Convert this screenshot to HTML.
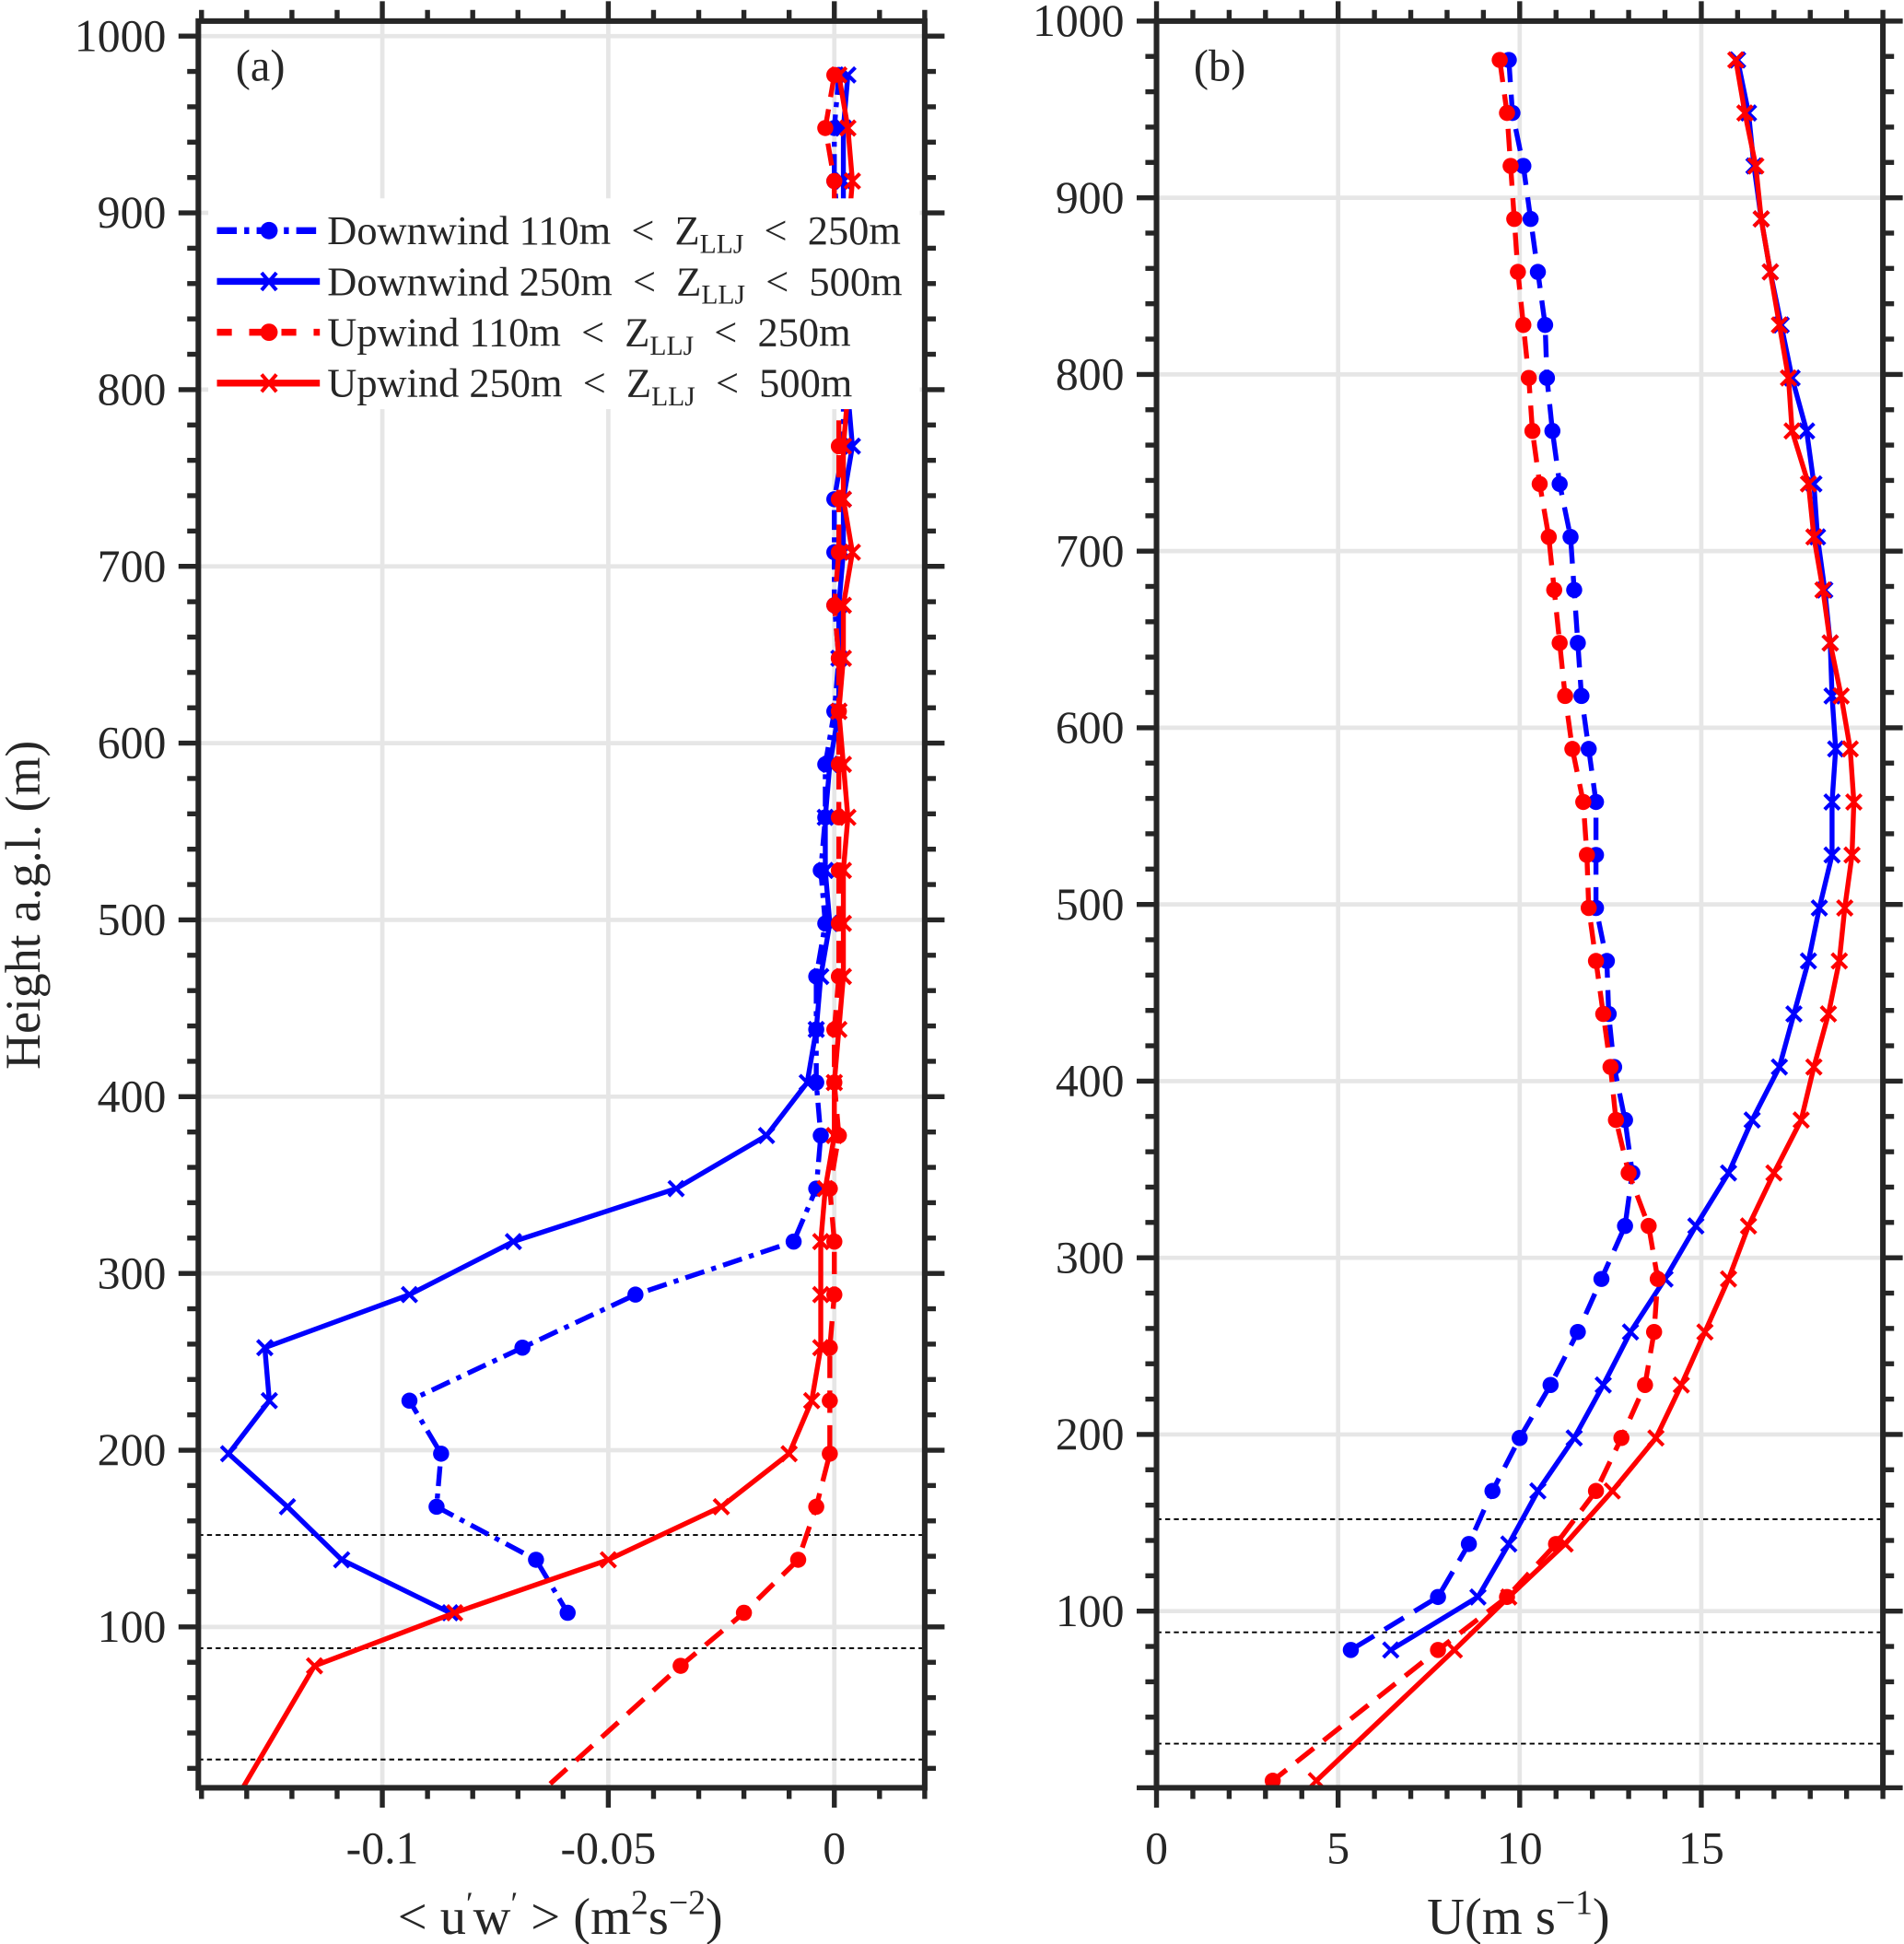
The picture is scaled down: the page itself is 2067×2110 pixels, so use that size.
<!DOCTYPE html>
<html><head><meta charset="utf-8"><style>
html,body{margin:0;padding:0;background:#fff;}
svg{display:block;}
text{font-family:"Liberation Serif",serif;fill:#262626;}
</style></head><body>
<svg id="fig" width="2067" height="2110" viewBox="0 0 1536 1568" xmlns="http://www.w3.org/2000/svg"></svg>
<script>
// ---- data ----
const heightsA = [978,948,918,888,858,828,798,768,738,708,678,648,618,588,558,528,498,468,438,408,378,348,318,288,258,228,198,168,138,108,78,4];
const dwLowFlux = [0.001,0.0,0.0,0.001,0.001,0.001,0.002,0.002,0.0,0.0,0.0,0.001,0.0,-0.002,-0.002,-0.003,-0.002,-0.004,-0.004,-0.004,-0.003,-0.004,-0.009,-0.044,-0.069,-0.094,-0.087,-0.088,-0.066,-0.059];
const dwHighFlux = [0.003,0.002,0.002,0.002,0.003,0.003,0.003,0.004,0.002,0.002,0.001,0.001,0.001,-0.001,-0.002,-0.002,-0.001,-0.003,-0.004,-0.006,-0.015,-0.035,-0.071,-0.094,-0.126,-0.125,-0.134,-0.121,-0.109,-0.085];
const uwLowFlux = [0.0,-0.002,0.0,0.0,0.0,0.001,0.001,0.001,0.001,0.001,0.0,0.001,0.001,0.001,0.001,0.001,0.001,0.001,0.0,0.0,0.001,-0.001,0.0,0.0,-0.001,-0.001,-0.001,-0.004,-0.008,-0.020,-0.034,-0.066];
const uwHighFlux = [0.001,0.003,0.004,0.003,0.003,0.003,0.003,0.002,0.002,0.004,0.002,0.002,0.001,0.002,0.003,0.002,0.002,0.002,0.001,0.0,0.0,-0.002,-0.003,-0.003,-0.003,-0.005,-0.010,-0.025,-0.050,-0.084,-0.115,-0.132];
const heightsB = heightsA;
const dwLowU = [9.7,9.8,10.1,10.3,10.5,10.7,10.75,10.9,11.1,11.4,11.5,11.6,11.7,11.9,12.1,12.1,12.1,12.4,12.45,12.6,12.9,13.1,12.9,12.25,11.6,10.85,10.0,9.25,8.6,7.75,5.35];
const dwHighU = [16.0,16.3,16.45,16.65,16.9,17.2,17.5,17.9,18.1,18.2,18.4,18.55,18.6,18.7,18.6,18.6,18.25,17.95,17.55,17.15,16.4,15.75,14.85,14.0,13.05,12.3,11.5,10.5,9.7,8.85,6.45];
const uwLowU = [9.45,9.65,9.75,9.85,9.95,10.1,10.25,10.35,10.55,10.8,10.95,11.1,11.25,11.45,11.75,11.85,11.9,12.1,12.3,12.5,12.65,13.0,13.55,13.8,13.7,13.45,12.8,12.1,11.0,9.65,7.75,3.2];
const uwHighU = [15.95,16.2,16.5,16.65,16.9,17.15,17.4,17.5,17.95,18.1,18.35,18.55,18.85,19.1,19.2,19.15,18.95,18.8,18.5,18.1,17.75,17.0,16.3,15.75,15.1,14.45,13.75,12.55,11.25,9.7,8.2,4.4];
const yTicks = [100,200,300,400,500,600,700,800,900,1000];
const xTicksA = [-0.1,-0.05,0];
const xTickLabelsA = ["-0.1","-0.05","0"];
const xTicksB = [0,5,10,15];
const xTickLabelsB = ["0","5","10","15"];
const refHeights = [152,88,25];

// ---- drawing ----
const NS="http://www.w3.org/2000/svg";
const svg=document.getElementById('fig');
function mk(tag,attrs,parent){const e=document.createElementNS(NS,tag);for(const k in attrs)e.setAttribute(k,attrs[k]);(parent||svg).appendChild(e);return e;}

function panel(cfg){
  const g=mk('g',{});
  
  
  const {L,R,T,B,x0,x1,y0,y1}=cfg;
  const sx=v=>L+(v-x0)/(x1-x0)*(R-L);
  const sy=v=>B-(v-y0)/(y1-y0)*(B-T);
  const clipId='clip'+cfg.name;
  const cp=mk('clipPath',{id:clipId},g);mk('rect',{x:L,y:T,width:R-L,height:B-T},cp);
  const grid=mk('g',{stroke:'#e6e6e6','stroke-width':3.5},g);
  
  cfg.xt.forEach(v=>mk('line',{x1:sx(v),x2:sx(v),y1:T,y2:B},grid));
  yTicks.forEach(v=>{if(v>=y0&&v<=y1)mk('line',{x1:L,x2:R,y1:sy(v),y2:sy(v)},grid);});
  refHeights.forEach(h=>{const l=mk('line',{x1:L,x2:R,y1:sy(h),y2:sy(h),stroke:'#000','stroke-width':1.4,'stroke-dasharray':'4,3'},g);
    });
  const sg=mk('g',{'clip-path':`url(#${clipId})`},g);
  cfg.series.forEach(s=>{
    const pts=s.vals.map((v,i)=>[sx(v),sy(cfg.h[i])]);
    const pl=mk('polyline',{points:pts.map(p=>p.join(',')).join(' '),fill:'none',stroke:s.c,'stroke-width':4,'stroke-dasharray':s.dash||'none','stroke-linejoin':'round'},sg);
    
    pts.forEach(p=>{
      if(s.m==='o'){const c=mk('circle',{cx:p[0],cy:p[1],r:6.5,fill:s.c},sg);
        }
      else{const m=mk('path',{d:`M${p[0]-6},${p[1]-6}L${p[0]+6},${p[1]+6}M${p[0]-6},${p[1]+6}L${p[0]+6},${p[1]-6}`,stroke:s.c,'stroke-width':3},sg);
        }
    });
  });
  const fr=mk('rect',{x:L,y:T,width:R-L,height:B-T,fill:'none',stroke:'#262626','stroke-width':4.5},g);
  
  const tk=mk('g',{stroke:'#262626','stroke-width':4},g);
  for(let v=Math.ceil(y0/20)*20;v<=y1;v+=20){
    const major=v%100===0, len=major?16:9, y=sy(v);
    mk('line',{x1:L-len,x2:L,y1:y,y2:y},tk);mk('line',{x1:R,x2:R+len,y1:y,y2:y},tk);
  }
  for(let v=cfg.mx0;v<=x1+1e-9;v+=cfg.mstep){
    const vv=Math.round(v/cfg.mstep)*cfg.mstep;
    const major=cfg.xt.some(t=>Math.abs(t-vv)<1e-9), len=major?16:9, x=sx(vv);
    mk('line',{x1:x,x2:x,y1:B,y2:B+len},tk);mk('line',{x1:x,x2:x,y1:T-len,y2:T},tk);
  }
  yTicks.forEach(v=>{if(v>=y0&&v<=y1){const t=mk('text',{x:L-26,y:sy(v)+12,'text-anchor':'end','font-size':37},g);t.textContent=v;
    }});
  cfg.xt.forEach((v,i)=>{const t=mk('text',{x:sx(v),y:1503,'text-anchor':'middle','font-size':37},g);t.textContent=cfg.xl[i];
    });
  const pl=mk('text',{x:L+30,y:T+48,'font-size':36},g);pl.textContent=cfg.label;
  
  return {g,sx,sy};
}

panel({name:'panel-a',L:160,R:746,T:17,B:1442,x0:-0.1407,x1:0.02,y0:9,y1:1008.5,xt:xTicksA,xl:xTickLabelsA,mx0:-0.14,mstep:0.01,h:heightsA,label:'(a)',
  series:[
    {id:'downwind-low',vals:dwLowFlux,c:'#0000ff',m:'o',dash:'16,6,4,6'},
    {id:'downwind-high',vals:dwHighFlux,c:'#0000ff',m:'x'},
    {id:'upwind-low',vals:uwLowFlux,c:'#ff0000',m:'o',dash:'18,10'},
    {id:'upwind-high',vals:uwHighFlux,c:'#ff0000',m:'x'}]});
panel({name:'panel-b',L:933,R:1519,T:17,B:1442,x0:0,x1:20,y0:0,y1:1000,xt:xTicksB,xl:xTickLabelsB,mx0:0,mstep:1,h:heightsB,label:'(b)',
  series:[
    {id:'downwind-low',vals:dwLowU,c:'#0000ff',m:'o',dash:'18,10'},
    {id:'downwind-high',vals:dwHighU,c:'#0000ff',m:'x'},
    {id:'upwind-low',vals:uwLowU,c:'#ff0000',m:'o',dash:'18,10'},
    {id:'upwind-high',vals:uwHighU,c:'#ff0000',m:'x'}]});

const lg=mk('g',{});

mk('rect',{x:168,y:160,width:574,height:170,fill:'#fff'},lg);
const legItems=[
  ['Downwind 110m','250m','#0000ff','o','16,6,4,6'],
  ['Downwind 250m','500m','#0000ff','x','none'],
  ['Upwind 110m','250m','#ff0000','o','12,14'],
  ['Upwind 250m','500m','#ff0000','x','none']];
legItems.forEach((it,i)=>{
  const y=186+i*41;
  const e=mk('g',{},lg);
  
  mk('line',{x1:175,x2:258,y1:y,y2:y,stroke:it[2],'stroke-width':5.5,'stroke-dasharray':it[4]},e);
  if(it[3]==='o')mk('circle',{cx:217,cy:y,r:7,fill:it[2]},e);
  else mk('path',{d:`M${211},${y-7}L${223},${y+7}M${211},${y+7}L${223},${y-7}`,stroke:it[2],'stroke-width':3},e);
  const t=mk('text',{x:264,y:y+11,'font-size':33,'xml:space':'preserve'},e);
  t.innerHTML=`${it[0]} &#160;&lt;&#160; Z<tspan font-size="22" dy="7">LLJ</tspan><tspan dy="-7"> &#160;&lt;&#160; ${it[1]}</tspan>`;
});

let t=mk('text',{x:452,y:1560,'text-anchor':'middle','font-size':42});

t.innerHTML='&lt; u<tspan dy="-16" font-size="26">′</tspan><tspan dy="16">w</tspan><tspan dy="-16" font-size="26">′</tspan><tspan dy="16"> &gt; (m</tspan><tspan dy="-16" font-size="28">2</tspan><tspan dy="16">s</tspan><tspan dy="-16" font-size="28">−2</tspan><tspan dy="16">)</tspan>';
t=mk('text',{x:1225,y:1560,'text-anchor':'middle','font-size':42});

t.innerHTML='U(m s<tspan dy="-16" font-size="28">−1</tspan><tspan dy="16">)</tspan>';
t=mk('text',{x:0,y:0,'text-anchor':'middle','font-size':40,transform:'translate(32,730) rotate(-90)','xml:space':'preserve'});

t.textContent='Height  a.g.l.  (m)';
</script>
</body></html>
